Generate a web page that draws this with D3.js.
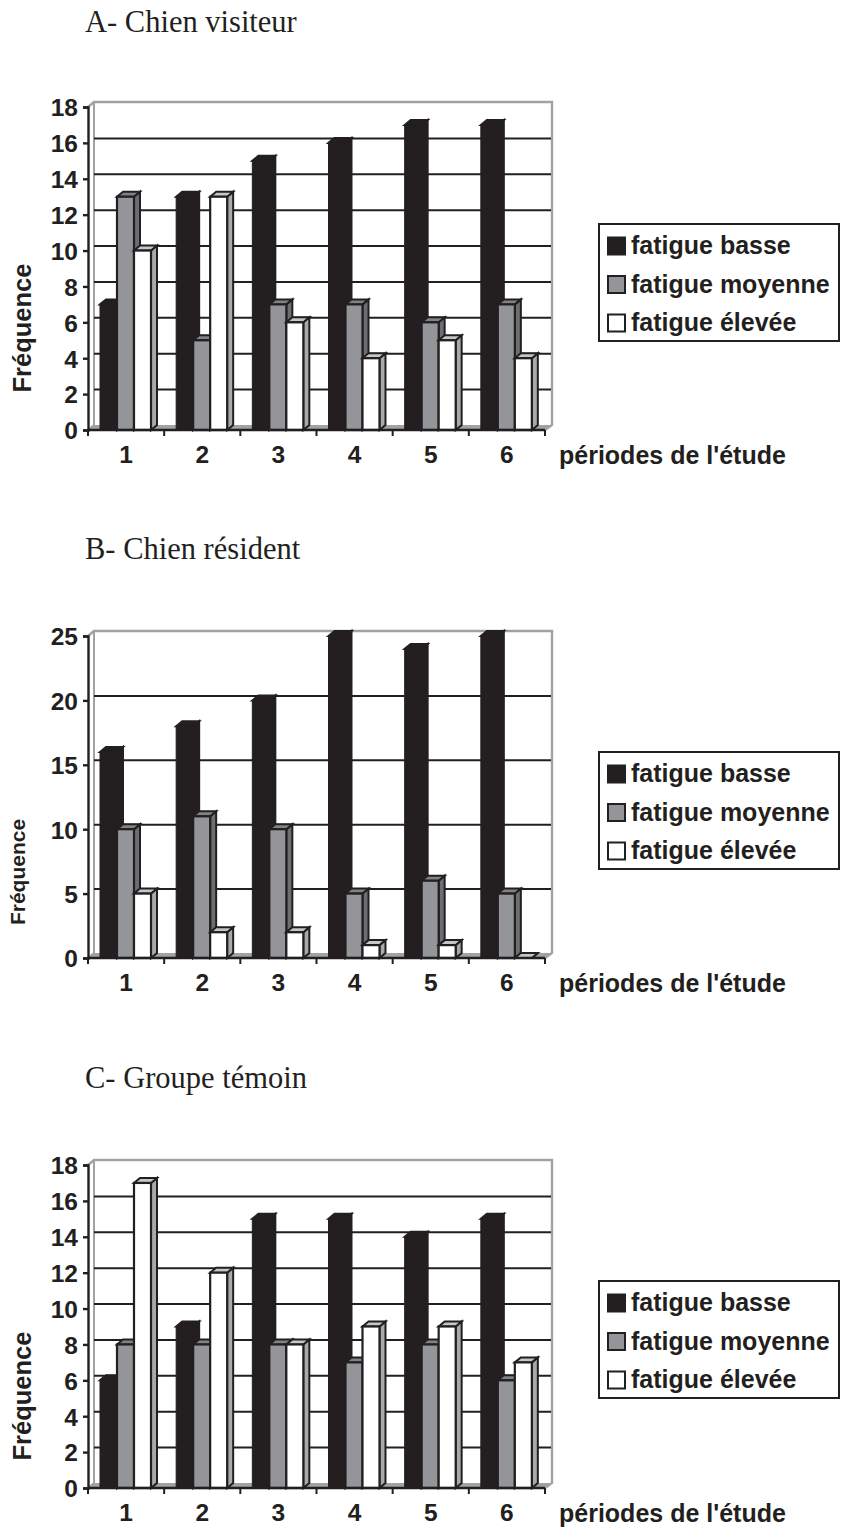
<!DOCTYPE html>
<html><head><meta charset="utf-8">
<script src="https://cdn.jsdelivr.net/npm/d3@7"></script>
<style>html,body{margin:0;background:#fff}svg{display:block}text{fill:#231f20}</style>
</head><body><svg id="c" width="841" height="1528"></svg>
<script>
const periods=["1","2","3","4","5","6"];
const seriesNames=["fatigue basse","fatigue moyenne","fatigue élevée"];
const xTitle="périodes de l'étude";
const yTitle="Fréquence";
const titleA="A- Chien visiteur",titleB="B- Chien résident",titleC="C- Groupe témoin";
const basseA=[7,13,15,16,17,17],moyenneA=[13,5,7,7,6,7],eleveeA=[10,13,6,4,5,4];
const basseB=[16,18,20,25,24,25],moyenneB=[10,11,10,5,6,5],eleveeB=[5,2,2,1,1,0];
const basseC=[6,9,15,15,14,15],moyenneC=[8,8,8,7,8,6],eleveeC=[17,12,8,9,9,7];
const ticksA=[0,2,4,6,8,10,12,14,16,18],ticksB=[0,5,10,15,20,25],ticksC=ticksA;

const INK="#231f20",GREY="#939598",DARK="#6d6e71",WALL="#a0a2a5";
const front=[INK,GREY,"#fff"],side=[INK,DARK,"#a7a9ac"],topc=[INK,"#808285","#c4c6c8"];
const dx=6,dy=5,L=88,R=545;
const svg=d3.select("#c");
const SANS="'Liberation Sans',Arial,sans-serif";

function chart(o){
  const g=svg.append("g");
  const y=d3.scaleLinear().domain([0,o.max]).range([o.y0,o.yTop]);
  const x=d3.scaleBand().domain(periods).range([L,R]);
  const inner=d3.scaleBand().domain(seriesNames).range([12,63]);
  g.append("text").attr("x",85).attr("y",o.titleY).attr("font-family","'Liberation Serif',serif")
    .attr("font-size",30.5).text(o.title);
  g.append("path").attr("fill","none").attr("stroke",WALL).attr("stroke-width",2.4)
    .attr("d",`M${L},${o.yTop}L${L+dx},${o.yTop-dy}H${R+dx+1}V${o.y0-dy}L${R},${o.y0}`);
  g.append("path").attr("fill","none").attr("stroke",WALL).attr("stroke-width",2)
    .attr("d",`M${L+dx},${o.yTop-dy}V${o.y0-dy}L${L},${o.y0}`);
  g.append("path").attr("fill",WALL).attr("d",`M${L},${o.y0}L${L+dx},${o.y0-dy}H${R+dx}L${R},${o.y0}Z`);
  g.append("g").selectAll("line").data(o.ticks.filter(t=>t>0&&t<o.max)).join("line")
    .attr("x1",L+dx).attr("x2",R+dx).attr("y1",d=>y(d)-dy+0.5).attr("y2",d=>y(d)-dy+0.5)
    .attr("stroke",INK).attr("stroke-width",2);
  o.series.forEach((vals,s)=>{
    const sn=seriesNames[s];
    const bars=g.append("g").selectAll("g").data(vals.map((v,i)=>({v,p:periods[i]}))).join("g")
      .attr("transform",d=>`translate(${x(d.p)+inner(sn)},0)`);
    const w=inner.bandwidth();
    bars.append("path").attr("fill",side[s]).attr("stroke",INK).attr("stroke-width",2)
      .attr("d",d=>`M${w},${y(d.v)}l${dx},${-dy}V${o.y0-dy}L${w},${o.y0}Z`);
    bars.append("path").attr("fill",topc[s]).attr("stroke",INK).attr("stroke-width",2)
      .attr("d",d=>`M0,${y(d.v)}l${dx},${-dy}h${w}l${-dx},${dy}Z`);
    bars.append("rect").attr("width",w).attr("y",d=>y(d.v)).attr("height",d=>o.y0-y(d.v))
      .attr("fill",front[s]).attr("stroke",INK).attr("stroke-width",s?2.2:1);
  });
  const ya=g.append("g").attr("transform",`translate(${L},0)`)
    .call(d3.axisLeft(y).tickValues(o.ticks).tickSize(5).tickPadding(5));
  const xa=g.append("g").attr("transform",`translate(0,${o.y0})`)
    .call(d3.axisBottom(x).tickSize(0).tickPadding(16));
  g.append("g").selectAll("line").data(d3.range(7)).join("line")
    .attr("x1",d=>L+d*x.step()).attr("x2",d=>L+d*x.step()).attr("y1",o.y0).attr("y2",o.y0+6)
    .attr("stroke",INK).attr("stroke-width",2);
  [ya,xa].forEach(a=>{a.selectAll("path,line").attr("stroke",INK).attr("stroke-width",2.4);
    a.selectAll("text").attr("font-family",SANS).attr("font-weight",700).attr("font-size",24.5).attr("fill",INK);});
  ya.selectAll("text").attr("y",1);
  xa.select("path").attr("d",`M${L},0H${R}`);
  g.append("text").attr("x",559).attr("y",o.y0+34).attr("font-family",SANS).attr("font-weight",700)
    .attr("font-size",25).text(xTitle);
  g.append("text").attr("transform",`translate(${o.ytX},${o.ytY}) rotate(-90)`).attr("text-anchor","middle")
    .attr("font-family",SANS).attr("font-weight",700).attr("font-size",o.ytSize).text(yTitle);
  const ly=o.legendY;
  g.append("rect").attr("x",599).attr("y",ly).attr("width",240).attr("height",117)
    .attr("fill","#fff").attr("stroke",INK).attr("stroke-width",2);
  seriesNames.forEach((n,i)=>{
    const cy=ly+22+i*38.5;
    g.append("rect").attr("x",608).attr("y",cy-8.5).attr("width",17).attr("height",17)
      .attr("fill",front[i]).attr("stroke",INK).attr("stroke-width",2);
    g.append("text").attr("x",631).attr("y",cy+8).attr("font-family",SANS).attr("font-weight",700)
      .attr("font-size",25).text(n);
  });
}
chart({title:titleA,titleY:32,max:18,ticks:ticksA,yTop:107,y0:430,series:[basseA,moyenneA,eleveeA],ytX:31,ytY:328,ytSize:25.5,legendY:224});
chart({title:titleB,titleY:559,max:25,ticks:ticksB,yTop:636,y0:958,series:[basseB,moyenneB,eleveeB],ytX:25,ytY:872,ytSize:21,legendY:752});
chart({title:titleC,titleY:1088,max:18,ticks:ticksC,yTop:1165,y0:1488,series:[basseC,moyenneC,eleveeC],ytX:31,ytY:1396,ytSize:25.5,legendY:1281});
</script></body></html>
